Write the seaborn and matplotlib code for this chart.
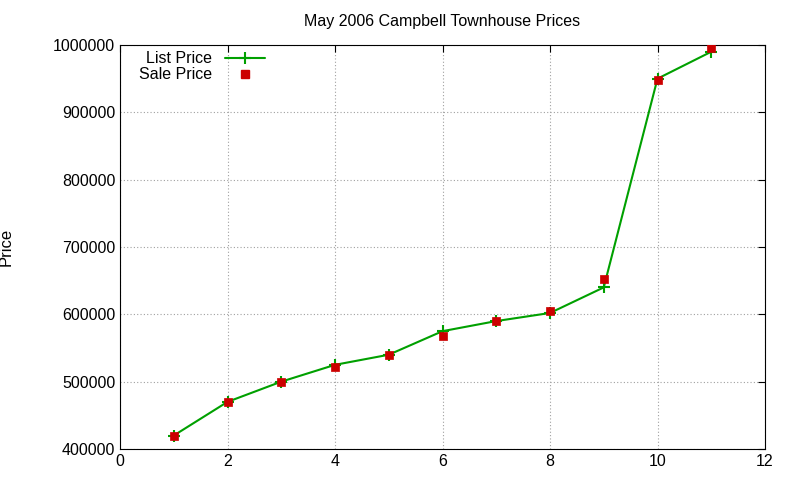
import matplotlib
matplotlib.use("Agg")
import matplotlib.pyplot as plt
from matplotlib.lines import Line2D
import seaborn as sns
import pandas as pd

x = [1, 2, 3, 4, 5, 6, 7, 8, 9, 10, 11]
list_price = [420000, 470000, 500000, 525000, 540000, 575000, 590000, 602000, 640000, 950000, 990000]
sale_price = [420000, 470000, 500000, 522000, 540000, 568000, 590000, 605000, 652000, 948000, 995000]

sns.set_style("white")
plt.rcParams['font.family'] = ['Liberation Sans', 'DejaVu Sans']
plt.rcParams['text.color'] = 'black'
plt.rcParams['axes.labelcolor'] = 'black'
plt.rcParams['xtick.color'] = 'black'
plt.rcParams['ytick.color'] = 'black'
fig = plt.figure(figsize=(8, 4.8), dpi=100)
ax = fig.add_axes([120/800, 1-449/480, 645/800, 404/480])
df = pd.DataFrame({"x": x, "list": list_price, "sale": sale_price})
sns.lineplot(data=df, x="x", y="list", ax=ax, color="#00a000", marker="+", markersize=8,
             markeredgewidth=1.5, markeredgecolor="#00a000", linewidth=1.5, legend=False)
sns.scatterplot(data=df, x="x", y="sale", ax=ax, color="#cc0000", marker="s", s=40,
                edgecolor="#cc0000", legend=False, zorder=3)
ax.set_xlim(0, 12)
ax.set_ylim(400000, 1000000)
ax.set_xticks(range(0, 13, 2))
ax.set_yticks(range(400000, 1000001, 100000))
ax.ticklabel_format(style="plain", axis="y")
ax.grid(True, color="#a0a0a0", linestyle=(0, (1, 2)), linewidth=0.8)
for s in ax.spines.values():
    s.set_color("black"); s.set_linewidth(0.8)
ax.tick_params(direction="in", length=5, labelsize=11.5, top=True, right=True)
ax.set_xlabel("")
ax.set_ylabel("Price", fontsize=12, labelpad=28)
ax.set_title("May 2006 Campbell Townhouse Prices", fontsize=11.5, pad=14)
handles = [Line2D([], [], color="#00a000", marker="+", markersize=8, markeredgewidth=1.5, linewidth=1.5),
           Line2D([], [], color="#cc0000", marker="s", markersize=6, linestyle="none")]
ax.legend(handles, ["List Price", "Sale Price"], loc="upper left", frameon=False,
          markerfirst=False, fontsize=11.5, handlelength=2.5, borderaxespad=0.0,
          bbox_to_anchor=(0.02, 1.0), labelspacing=0.05)
fig.savefig("out.png", dpi=100)
